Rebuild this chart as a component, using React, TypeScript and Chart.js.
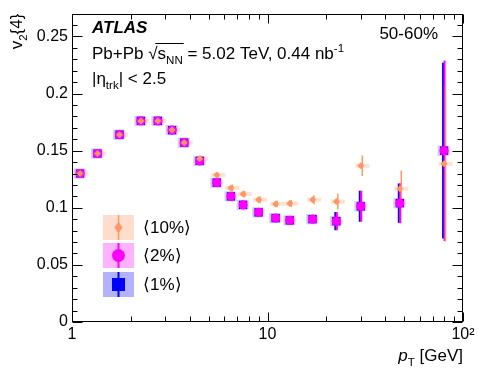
import React, { useEffect, useRef } from "react";
import { Chart, registerables } from "chart.js";
Chart.register(...registerables);

// ---- data ----
const pT = [1.1, 1.35, 1.75, 2.25, 2.75, 3.25, 3.75, 4.5, 5.5, 6.5, 7.5, 9, 11, 13, 17, 22.5, 30, 47.5, 80];

const v1 = [0.130, 0.1475, 0.164, 0.176, 0.176, 0.168, 0.157, 0.141, 0.122, 0.110, 0.1025, 0.096, 0.091, 0.089, 0.090, 0.0883, 0.1013, 0.104, 0.150];
const v1Err = [0.001, 0.001, 0.001, 0.001, 0.001, 0.001, 0.001, 0.001, 0.001, 0.0015, 0.0015, 0.002, 0.002, 0.002, 0.003, 0.008, 0.0135, 0.0172, 0.077];
const v1Sys = [0.0045, 0.0045, 0.0045, 0.0045, 0.0045, 0.0045, 0.0045, 0.0045, 0.0045, 0.0045, 0.0045, 0.0045, 0.0045, 0.0045, 0.0045, 0.0045, 0.0045, 0.0045, 0.0045];

const v2 = [0.130, 0.1475, 0.164, 0.176, 0.176, 0.168, 0.157, 0.141, 0.122, 0.110, 0.1025, 0.096, 0.091, 0.089, 0.090, 0.0883, 0.1013, 0.104, 0.150];
const v2Err = [0.001, 0.001, 0.001, 0.001, 0.001, 0.001, 0.001, 0.001, 0.001, 0.0015, 0.0015, 0.002, 0.002, 0.002, 0.003, 0.008, 0.0135, 0.0175, 0.079];
const v2Sys = [0.004, 0.004, 0.004, 0.004, 0.004, 0.004, 0.004, 0.004, 0.004, 0.004, 0.004, 0.004, 0.004, 0.004, 0.004, 0.004, 0.004, 0.004, 0.004];

const v10 = [0.130, 0.1475, 0.164, 0.176, 0.176, 0.168, 0.157, 0.143, 0.1286, 0.1173, 0.112, 0.107, 0.1034, 0.1037, 0.107, 0.1054, 0.1368, 0.1167, 0.1385];
const v10Err = [0.001, 0.001, 0.001, 0.001, 0.001, 0.001, 0.001, 0.0015, 0.002, 0.003, 0.003, 0.003, 0.003, 0.003, 0.004, 0.007, 0.009, 0.016, 0.068];
const v10Sys = [0.0018, 0.0018, 0.0018, 0.0018, 0.0018, 0.0018, 0.0018, 0.0018, 0.0018, 0.0018, 0.0018, 0.0018, 0.0018, 0.0018, 0.0018, 0.0018, 0.0018, 0.0018, 0.0018];

const seriesLabels = ["\u27E810%\u27E9", "\u27E82%\u27E9", "\u27E81%\u27E9"];

const xMajor = [1, 10, 100];
const xMajorLabels = ["1", "10", "10\u00B2"];
const xMinor = [2, 3, 4, 5, 6, 7, 8, 9, 20, 30, 40, 50, 60, 70, 80, 90];
const yMajor = [0, 0.05, 0.1, 0.15, 0.2, 0.25];
const yMinorStep = 0.01;

// ---- style ----
const FONT = '"Liberation Sans", Arial, Helvetica, sans-serif';
const ORANGE = "rgb(255,150,100)";
const ORANGE_BOX = "rgba(255,150,100,0.32)";
const ORANGE_SYS = "rgba(255,150,100,0.28)";
const MAGENTA = "rgb(255,0,255)";
const MAGENTA_BOX = "rgba(255,0,255,0.3)";
const MAGENTA_SYS = "rgba(255,0,255,0.18)";
const BLUE = "rgb(0,0,255)";
const BLUE_BOX = "rgba(0,0,255,0.3)";
const BLUE_SYS = "rgba(0,0,255,0.18)";

type Seg = { t: string; dy?: number; scale?: number; italic?: boolean; bold?: boolean };

function segFont(seg: Seg, size: number) {
  const s = size * (seg.scale ?? 1);
  return `${seg.italic ? "italic " : ""}${seg.bold ? "bold " : ""}${s}px ${FONT}`;
}
function measureRich(ctx: CanvasRenderingContext2D, segs: Seg[], size: number) {
  let w = 0;
  for (const s of segs) {
    ctx.font = segFont(s, size);
    w += ctx.measureText(s.t).width;
  }
  return w;
}
function drawRich(ctx: CanvasRenderingContext2D, x: number, y: number, segs: Seg[], size: number) {
  let cx = x;
  const pos: number[] = [];
  for (const s of segs) {
    ctx.font = segFont(s, size);
    pos.push(cx);
    ctx.fillText(s.t, cx, y + (s.dy ?? 0) * size);
    cx += ctx.measureText(s.t).width;
  }
  pos.push(cx);
  return pos;
}

const deco = {
  id: "deco",
  beforeDatasetsDraw(chart: any) {
    const ctx: CanvasRenderingContext2D = chart.ctx;
    const xs = chart.scales.x;
    const ys = chart.scales.y;
    const ca = chart.chartArea;
    ctx.save();
    ctx.beginPath();
    ctx.rect(ca.left, ca.top, ca.right - ca.left, ca.bottom - ca.top);
    ctx.clip();
    const series = [
      { vals: v1, err: v1Err, sys: v1Sys, box: BLUE_SYS, line: BLUE, dx: -1, lw: 2, hw: 5.5 },
      { vals: v2, err: v2Err, sys: v2Sys, box: MAGENTA_SYS, line: MAGENTA, dx: 0.5, lw: 2, hw: 5.5 },
      { vals: v10, err: v10Err, sys: v10Sys, box: ORANGE_SYS, line: ORANGE, dx: 1.5, lw: 1.5, hw: 7 },
    ];
    for (const s of series) {
      ctx.fillStyle = s.box;
      for (let i = 0; i < pT.length; i++) {
        const px = xs.getPixelForValue(pT[i]) + s.dx;
        const y1 = ys.getPixelForValue(s.vals[i] + s.sys[i]);
        const y2 = ys.getPixelForValue(s.vals[i] - s.sys[i]);
        ctx.fillRect(px - s.hw, y1, 2 * s.hw, y2 - y1);
      }
    }
    for (const s of series) {
      ctx.strokeStyle = s.line;
      ctx.lineWidth = s.lw;
      for (let i = 0; i < pT.length; i++) {
        const px = xs.getPixelForValue(pT[i]) + s.dx;
        const y1 = ys.getPixelForValue(s.vals[i] + s.err[i]);
        const y2 = ys.getPixelForValue(s.vals[i] - s.err[i]);
        ctx.beginPath();
        ctx.moveTo(px, y1);
        ctx.lineTo(px, y2);
        ctx.stroke();
      }
    }
    ctx.restore();
  },
  afterDraw(chart: any) {
    const ctx: CanvasRenderingContext2D = chart.ctx;
    const xs = chart.scales.x;
    const ys = chart.scales.y;
    const { left, right, top, bottom } = chart.chartArea;
    ctx.save();
    // frame
    ctx.strokeStyle = "#000";
    ctx.lineWidth = 1;
    const L = Math.round(left) + 0.5, R = Math.round(right) - 0.5, T = Math.round(top) + 0.5, B = Math.round(bottom) - 0.5;
    ctx.strokeRect(L, T, R - L, B - T);
    // ticks
    ctx.beginPath();
    const xt = (v: number, len: number) => {
      const p = Math.round(xs.getPixelForValue(v)) + 0.5;
      ctx.moveTo(p, B); ctx.lineTo(p, B - len);
      ctx.moveTo(p, T); ctx.lineTo(p, T + len);
    };
    xMajor.forEach((v) => xt(v, 9));
    xMinor.forEach((v) => xt(v, 5));
    const yt = (v: number, len: number) => {
      const p = Math.round(ys.getPixelForValue(v)) + 0.5;
      ctx.moveTo(L, p); ctx.lineTo(L + len, p);
      ctx.moveTo(R, p); ctx.lineTo(R - len, p);
    };
    yMajor.forEach((v) => yt(v, 10));
    for (let k = 1; k * yMinorStep <= ys.max + 1e-9; k++) {
      const v = k * yMinorStep;
      if (k % 5 !== 0) yt(v, 5);
    }
    ctx.stroke();

    // texts
    ctx.fillStyle = "#000";
    ctx.textAlign = "left";
    ctx.textBaseline = "alphabetic";
    drawRich(ctx, 92, 33, [{ t: "ATLAS", bold: true, italic: true }], 17);
    const pos = drawRich(ctx, 92, 59, [
      { t: "Pb+Pb " },
      { t: "\u221A" },
      { t: "s" },
      { t: "NN", scale: 0.68, dy: 0.28 },
      { t: " = 5.02 TeV, 0.44 nb" },
      { t: "-1", scale: 0.68, dy: -0.42 },
    ], 17);
    ctx.strokeStyle = "#000";
    ctx.lineWidth = 1;
    ctx.beginPath();
    ctx.moveTo(pos[1] + 7, 59 - 15.5);
    ctx.lineTo(pos[4] + 1, 59 - 15.5);
    ctx.stroke();
    drawRich(ctx, 92, 84, [
      { t: "|\u03B7" },
      { t: "trk", scale: 0.68, dy: 0.3 },
      { t: "| < 2.5" },
    ], 17);
    ctx.font = `17px ${FONT}`;
    ctx.textAlign = "right";
    ctx.fillText("50-60%", 438, 39);
    ctx.textAlign = "left";

    // x title
    const xTitle: Seg[] = [
      { t: "p", italic: true },
      { t: "T", scale: 0.68, dy: 0.3 },
      { t: " [GeV]" },
    ];
    const xw = measureRich(ctx, xTitle, 17);
    drawRich(ctx, right - xw, 361, xTitle, 17);

    // y title
    const yTitle: Seg[] = [
      { t: "v" },
      { t: "2", scale: 0.68, dy: 0.28 },
      { t: "{4}" },
    ];
    const yw = measureRich(ctx, yTitle, 17);
    ctx.save();
    ctx.translate(22, top);
    ctx.rotate(-Math.PI / 2);
    drawRich(ctx, -yw, 0, yTitle, 17);
    ctx.restore();

    // legend
    const boxes = [
      { y0: 215, fill: ORANGE_BOX, col: ORANGE, kind: "diamond" },
      { y0: 243, fill: MAGENTA_BOX, col: MAGENTA, kind: "circle" },
      { y0: 272, fill: BLUE_BOX, col: BLUE, kind: "square" },
    ];
    const bx = 103, bw = 31, bh = 25;
    boxes.forEach((b, i) => {
      ctx.fillStyle = b.fill;
      ctx.fillRect(bx, b.y0, bw, bh);
      const cx = bx + bw / 2, cy = b.y0 + bh / 2;
      ctx.strokeStyle = b.col;
      ctx.lineWidth = b.kind === "diamond" ? 1.5 : 2;
      ctx.beginPath();
      ctx.moveTo(cx, b.y0);
      ctx.lineTo(cx, b.y0 + bh);
      ctx.stroke();
      ctx.fillStyle = b.col;
      ctx.beginPath();
      if (b.kind === "diamond") {
        ctx.moveTo(cx, cy - 6); ctx.lineTo(cx + 4, cy); ctx.lineTo(cx, cy + 6); ctx.lineTo(cx - 4, cy); ctx.closePath();
      } else if (b.kind === "circle") {
        ctx.arc(cx, cy, 6.5, 0, Math.PI * 2);
      } else {
        ctx.rect(cx - 6.5, cy - 6.5, 13, 13);
      }
      ctx.fill();
      ctx.fillStyle = "#000";
      ctx.font = `17px ${FONT}`;
      ctx.textBaseline = "middle";
      ctx.fillText(seriesLabels[i], 143, cy + 1);
      ctx.textBaseline = "alphabetic";
    });
    ctx.restore();
  },
};

export default function App() {
  const ref = useRef<HTMLCanvasElement>(null);
  useEffect(() => {
    document.body.style.margin = "0";
    const canvas = ref.current!;
    const mk = (vals: number[]) => pT.map((x, i) => ({ x, y: vals[i] }));
    const chart = new Chart(canvas, {
      type: "scatter",
      data: {
        datasets: [
          { label: seriesLabels[0], data: mk(v10), pointStyle: "rectRot", pointRadius: 3.5, pointBackgroundColor: ORANGE, pointBorderWidth: 0, backgroundColor: ORANGE, borderColor: ORANGE } as any,
          { label: seriesLabels[1], data: mk(v2), pointStyle: "circle", pointRadius: 4.6, pointBackgroundColor: MAGENTA, pointBorderWidth: 0, backgroundColor: MAGENTA, borderColor: MAGENTA } as any,
          { label: seriesLabels[2], data: mk(v1), pointStyle: "rect", pointRadius: 5.8, pointBackgroundColor: BLUE, pointBorderWidth: 0, backgroundColor: BLUE, borderColor: BLUE } as any,
        ],
      },
      options: {
        animation: false,
        responsive: false,
        devicePixelRatio: 1,
        layout: { padding: { top: 12, right: 15, left: 0, bottom: 0 } },
        plugins: { legend: { display: false }, tooltip: { enabled: false } },
        scales: {
          x: {
            type: "logarithmic",
            min: 1,
            max: 100,
            grid: { display: false, drawTicks: false },
            border: { display: false },
            afterBuildTicks: (a: any) => { a.ticks = xMajor.map((v) => ({ value: v })); },
            afterFit: (a: any) => { a.height = 57; },
            ticks: {
              autoSkip: false,
              maxRotation: 0,
              padding: 3,
              color: "#000",
              font: { family: FONT, size: 16 },
              callback: (v: any) => { const i = xMajor.indexOf(Number(v)); return i >= 0 ? xMajorLabels[i] : ""; },
            },
          },
          y: {
            min: 0,
            max: 0.27,
            grid: { display: false, drawTicks: false },
            border: { display: false },
            afterBuildTicks: (a: any) => { a.ticks = yMajor.map((v) => ({ value: v })); },
            afterFit: (a: any) => { a.width = 72; },
            ticks: {
              autoSkip: false,
              padding: 4,
              color: "#000",
              font: { family: FONT, size: 16 },
              callback: (v: any) => String(v),
            },
          },
        },
      } as any,
      plugins: [deco],
    });
    return () => chart.destroy();
  }, []);
  return (
    <div style={{ width: 478, height: 379 }}>
      <canvas ref={ref} width={478} height={379} style={{ display: "block" }} />
    </div>
  );
}
